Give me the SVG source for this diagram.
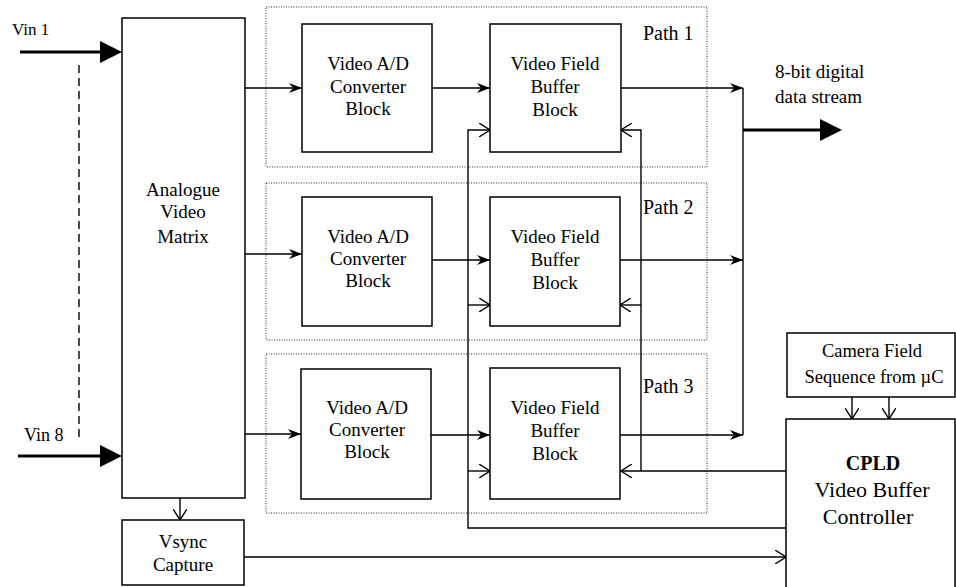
<svg xmlns="http://www.w3.org/2000/svg" width="956" height="587" viewBox="0 0 956 587">
<defs>
<style>
.box{fill:#fff;stroke:#000;stroke-width:1.5}
.path{fill:none;stroke:#333;stroke-width:1;stroke-dasharray:1,1.5}
.ln{fill:none;stroke:#000;stroke-width:1.4}
.thick{fill:none;stroke:#000;stroke-width:3}
.st{marker-end:url(#stealth)}
.op{marker-end:url(#open)}
text{font-family:"Liberation Serif","DejaVu Serif",serif;font-size:19px;fill:#000}
.c{text-anchor:middle}
.lbl{font-size:20px}
</style>
<marker id="stealth" markerUnits="userSpaceOnUse" markerWidth="14" markerHeight="10" refX="13" refY="5" orient="auto">
<path d="M0,0 L13,5 L0,10 L4,5 Z" fill="#000"/>
</marker>
<marker id="open" markerUnits="userSpaceOnUse" markerWidth="12" markerHeight="14" refX="11" refY="7" orient="auto">
<path d="M0,0 L11,7 L0,14" fill="none" stroke="#000" stroke-width="1.4"/>
</marker>
</defs>
<rect width="956" height="587" fill="#fff"/>
<g font-family="Liberation Serif, DejaVu Serif, serif">

<g id="path1-frame"><rect class="path" x="266" y="7" width="441" height="160"/><text class="lbl" x="643" y="40">Path 1</text></g>
<g id="path2-frame"><rect class="path" x="266" y="183" width="441" height="157"/><text class="lbl" x="643" y="214">Path 2</text></g>
<g id="path3-frame"><rect class="path" x="266" y="354" width="441" height="159"/><text class="lbl" x="643" y="393">Path 3</text></g>

<g id="connectors">
<line class="thick" x1="20" y1="52" x2="101" y2="52"/>
<polygon points="100,41 122,52 100,63" fill="#000"/>
<line class="thick" x1="18" y1="456" x2="101" y2="456"/>
<polygon points="100,445 122,456 100,467" fill="#000"/>
<line x1="79" y1="65" x2="79" y2="442" stroke="#000" stroke-width="1.4" stroke-dasharray="8,5"/>

<path class="ln st" d="M245,88 H302"/>
<path class="ln st" d="M245,254 H302"/>
<path class="ln st" d="M245,434 H301"/>
<path class="ln st" d="M432,88 H490"/>
<path class="ln st" d="M432,260 H490"/>
<path class="ln st" d="M431,435 H490"/>
<path class="ln st" d="M621,88 H743"/>
<path class="ln st" d="M620,260 H743"/>
<path class="ln st" d="M620,435 H743"/>
<path class="ln" d="M743,88 V435"/>
<line class="thick" x1="743" y1="130" x2="821" y2="130"/>
<polygon points="820,119 842,130 820,141" fill="#000"/>

<path class="ln op" d="M786,528 H468 V130 H490"/>
<path class="ln op" d="M468,305 H490"/>
<path class="ln op" d="M468,471 H490"/>
<path class="ln op" d="M786,471 H621"/>
<path class="ln op" d="M641,471 V130 H621"/>
<path class="ln op" d="M641,305 H620"/>

<path class="ln op" d="M180,498 V520"/>
<path class="ln op" d="M244,557 H786"/>
<path class="ln op" d="M852,397 V419"/>
<path class="ln op" d="M889,397 V419"/>
</g>

<g id="vin-labels">
<text x="12" y="35" style="font-size:17px">Vin 1</text>
<text x="24" y="441" style="font-size:18px">Vin 8</text>
</g>

<g id="matrix">
<rect class="box" x="122" y="18" width="123" height="480"/>
<text class="c" x="183" y="196">Analogue</text>
<text class="c" x="183" y="218">Video</text>
<text class="c" x="183" y="243">Matrix</text>
</g>

<g id="adc1"><rect class="box" x="302" y="24" width="130" height="128"/>
<text class="c" x="368" y="70">Video A/D</text><text class="c" x="368" y="93">Converter</text><text class="c" x="368" y="115">Block</text></g>
<g id="adc2"><rect class="box" x="302" y="197" width="130" height="129"/>
<text class="c" x="368" y="243">Video A/D</text><text class="c" x="368" y="265">Converter</text><text class="c" x="368" y="287">Block</text></g>
<g id="adc3"><rect class="box" x="301" y="369" width="130" height="130"/>
<text class="c" x="367" y="414">Video A/D</text><text class="c" x="367" y="436">Converter</text><text class="c" x="367" y="458">Block</text></g>

<g id="vfb1"><rect class="box" x="490" y="24" width="131" height="128"/>
<text class="c" x="555" y="70">Video Field</text><text class="c" x="555" y="93">Buffer</text><text class="c" x="555" y="116">Block</text></g>
<g id="vfb2"><rect class="box" x="490" y="197" width="130" height="129"/>
<text class="c" x="555" y="243">Video Field</text><text class="c" x="555" y="266">Buffer</text><text class="c" x="555" y="289">Block</text></g>
<g id="vfb3"><rect class="box" x="490" y="368" width="130" height="131"/>
<text class="c" x="555" y="414">Video Field</text><text class="c" x="555" y="437">Buffer</text><text class="c" x="555" y="460">Block</text></g>

<g id="output-label">
<text x="775" y="78">8-bit digital</text>
<text x="775" y="103">data stream</text>
</g>

<g id="vsync"><rect class="box" x="122" y="520" width="122" height="65"/>
<text class="c" x="183" y="548">Vsync</text><text class="c" x="183" y="571">Capture</text></g>

<g id="camera"><rect class="box" x="787" y="333" width="168" height="64"/>
<text class="c" x="872" y="357" style="font-size:18.5px">Camera Field</text>
<text class="c" x="874" y="383" style="font-size:18.5px">Sequence from µC</text></g>

<g id="cpld"><rect class="box" x="786" y="419" width="169" height="170"/>
<text class="c" x="873" y="470" style="font-weight:bold;font-size:20px">CPLD</text>
<text class="c" x="872" y="497" style="font-size:22px">Video Buffer</text>
<text class="c" x="868" y="524" style="font-size:22px">Controller</text></g>
</g>
</svg>
